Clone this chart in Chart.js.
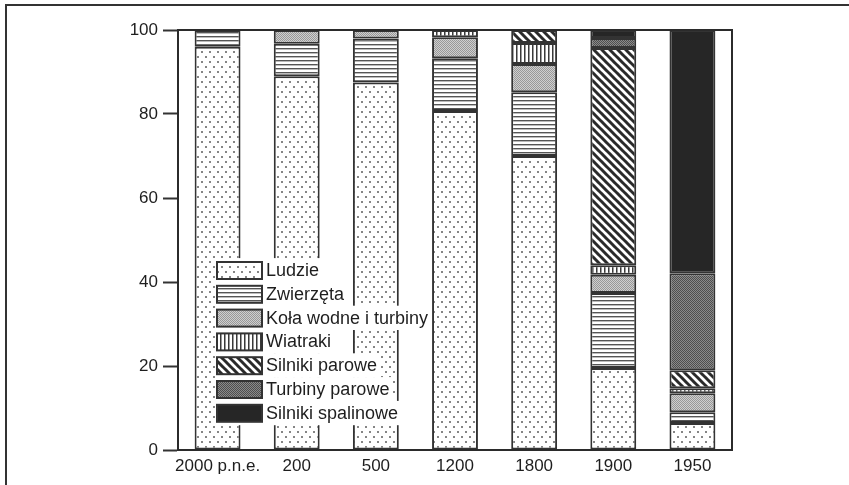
<!DOCTYPE html>
<html>
<head>
<meta charset="utf-8">
<script src="https://cdn.jsdelivr.net/npm/chart.js@4/dist/chart.umd.min.js"></script>
<style>
  html, body { margin: 0; padding: 0; background: #fff; }
  #wrap { width: 849px; height: 485px; position: relative; }
</style>
</head>
<body>
<div id="wrap"><canvas id="chart" width="849" height="485"></canvas></div>
<script>
// dane (udział procentowy źródeł energii)
const categories = ['2000 p.n.e.', '200', '500', '1200', '1800', '1900', '1950'];
const ludzie = [96, 89, 87.5, 80.7, 70, 19.5, 6.4];
const zwierzeta = [4, 7.7, 10.5, 12.6, 15.2, 17.9, 2.6];
const kolaWodne = [null, 3.3, 2, 5, 6.7, 4.3, 4.5];
const wiatraki = [null, null, null, 1.7, 5, 2.3, 1.2];
const silnikiParowe = [null, null, null, null, 3.1, 51.7, 4.3];
const turbinyParowe = [null, null, null, null, null, 2.4, 23.1];
const silnikiSpalinowe = [null, null, null, null, null, 1.9, 57.9];
const seriesNames = ['Ludzie', 'Zwierzęta', 'Koła wodne i turbiny', 'Wiatraki',
  'Silniki parowe', 'Turbiny parowe', 'Silniki spalinowe'];
const yTicks = [0, 20, 40, 60, 80, 100];

const canvas = document.getElementById('chart');
const FONT = '"Liberation Sans", Arial, Helvetica, sans-serif';

// wzory wypełnień
function makePattern(w, h, draw) {
  const c = document.createElement('canvas');
  c.width = w; c.height = h;
  const g = c.getContext('2d');
  g.fillStyle = '#fff';
  g.fillRect(0, 0, w, h);
  draw(g);
  return canvas.getContext('2d').createPattern(c, 'repeat');
}

const patDots = makePattern(8, 10, g => {
  g.fillStyle = '#858585';
  g.fillRect(1, 1, 2, 2);
  g.fillRect(5, 6, 2, 2);
});
const patHLines = makePattern(4, 4, g => {
  g.fillStyle = '#555';
  g.fillRect(0, 0, 4, 1);
  g.fillStyle = '#bbb';
  g.fillRect(0, 1, 4, 1);
});
const patLightStipple = makePattern(4, 4, g => {
  for (let y = 0; y < 4; y++) {
    for (let x = 0; x < 4; x++) {
      g.fillStyle = (x + y) % 2 ? '#cfcfcf' : '#989898';
      g.fillRect(x, y, 1, 1);
    }
  }
});
const patVLines = makePattern(4, 4, g => {
  g.fillStyle = '#3a3a3a';
  g.fillRect(0, 0, 1, 4);
  g.fillStyle = '#999';
  g.fillRect(1, 0, 1, 4);
});
const patDiag = makePattern(8, 8, g => {
  g.strokeStyle = '#2a2a2a';
  g.lineWidth = 3;
  for (const o of [-8, 0, 8]) {
    g.beginPath();
    g.moveTo(o - 1, -1);
    g.lineTo(o + 9, 9);
    g.stroke();
  }
});
const patDarkStipple = makePattern(2, 2, g => {
  g.fillStyle = '#4e4e4e';
  g.fillRect(0, 0, 1, 1);
  g.fillRect(1, 1, 1, 1);
  g.fillStyle = '#8a8a8a';
  g.fillRect(1, 0, 1, 1);
  g.fillRect(0, 1, 1, 1);
});

const fills = [patDots, patHLines, patLightStipple, patVLines, patDiag, patDarkStipple, '#262626'];
const values = [ludzie, zwierzeta, kolaWodne, wiatraki, silnikiParowe, turbinyParowe, silnikiSpalinowe];

const datasets = seriesNames.map((name, i) => ({
  label: name,
  data: values[i],
  backgroundColor: fills[i],
  borderColor: '#333',
  borderWidth: 2,
  borderSkipped: false,
  categoryPercentage: 1,
  barPercentage: 0.58
}));

// ramka wykresu i ramka obrazka
const framePlugin = {
  id: 'frame',
  afterDatasetsDraw(chart) {
    const { ctx, chartArea: a } = chart;
    ctx.save();
    ctx.strokeStyle = '#2b2b2b';
    ctx.lineWidth = 2;
    ctx.strokeRect(a.left, a.top, a.right - a.left, a.bottom - a.top);
    ctx.strokeStyle = '#333';
    ctx.beginPath();
    ctx.moveTo(6, 490);
    ctx.lineTo(6, 5);
    ctx.lineTo(849, 5);
    ctx.stroke();
    ctx.restore();
  }
};

// legenda wewnątrz obszaru wykresu
const legendPlugin = {
  id: 'insideLegend',
  afterDraw(chart) {
    const { ctx } = chart;
    const x0 = 217, y0 = 270, step = 23.8;
    ctx.save();
    ctx.font = '18px ' + FONT;
    ctx.textBaseline = 'middle';
    chart.data.datasets.forEach((ds, i) => {
      const cy = y0 + i * step;
      const tw = ctx.measureText(ds.label).width;
      ctx.fillStyle = '#fff';
      ctx.fillRect(x0 - 2, cy - step / 2, 265 - x0 + tw + 6, step + 0.5);
    });
    chart.data.datasets.forEach((ds, i) => {
      const cy = y0 + i * step;
      ctx.fillStyle = ds.backgroundColor;
      ctx.fillRect(x0, cy - 8, 45, 17);
      ctx.strokeStyle = '#333';
      ctx.lineWidth = 2;
      ctx.strokeRect(x0, cy - 8, 45, 17);
      ctx.fillStyle = '#1e1e1e';
      ctx.fillText(ds.label, 266, cy + 1);
    });
    ctx.restore();
  }
};

new Chart(canvas, {
  type: 'bar',
  data: { labels: categories, datasets },
  options: {
    responsive: false,
    animation: false,
    devicePixelRatio: 1,
    layout: { padding: { top: 30, right: 117, left: 0, bottom: 0 } },
    plugins: { legend: { display: false }, tooltip: { enabled: false } },
    scales: {
      x: {
        stacked: true,
        grid: { display: false, drawTicks: false },
        border: { display: true, color: '#2b2b2b', width: 2 },
        ticks: {
          color: '#1e1e1e',
          font: { family: FONT, size: 17 },
          padding: 6,
          autoSkip: false,
          maxRotation: 0
        },
        afterFit(scale) { scale.height = 35; }
      },
      y: {
        stacked: true,
        min: 0,
        max: 100,
        afterBuildTicks(scale) { scale.ticks = yTicks.map(v => ({ value: v })); },
        grid: { drawOnChartArea: false, drawTicks: true, tickLength: 15, tickColor: '#333', tickWidth: 2 },
        border: { display: true, color: '#2b2b2b', width: 2 },
        ticks: {
          color: '#1e1e1e',
          font: { family: FONT, size: 17 },
          padding: 5
        },
        afterFit(scale) { scale.width = 178; }
      }
    }
  },
  plugins: [framePlugin, legendPlugin]
});
</script>
</body>
</html>
